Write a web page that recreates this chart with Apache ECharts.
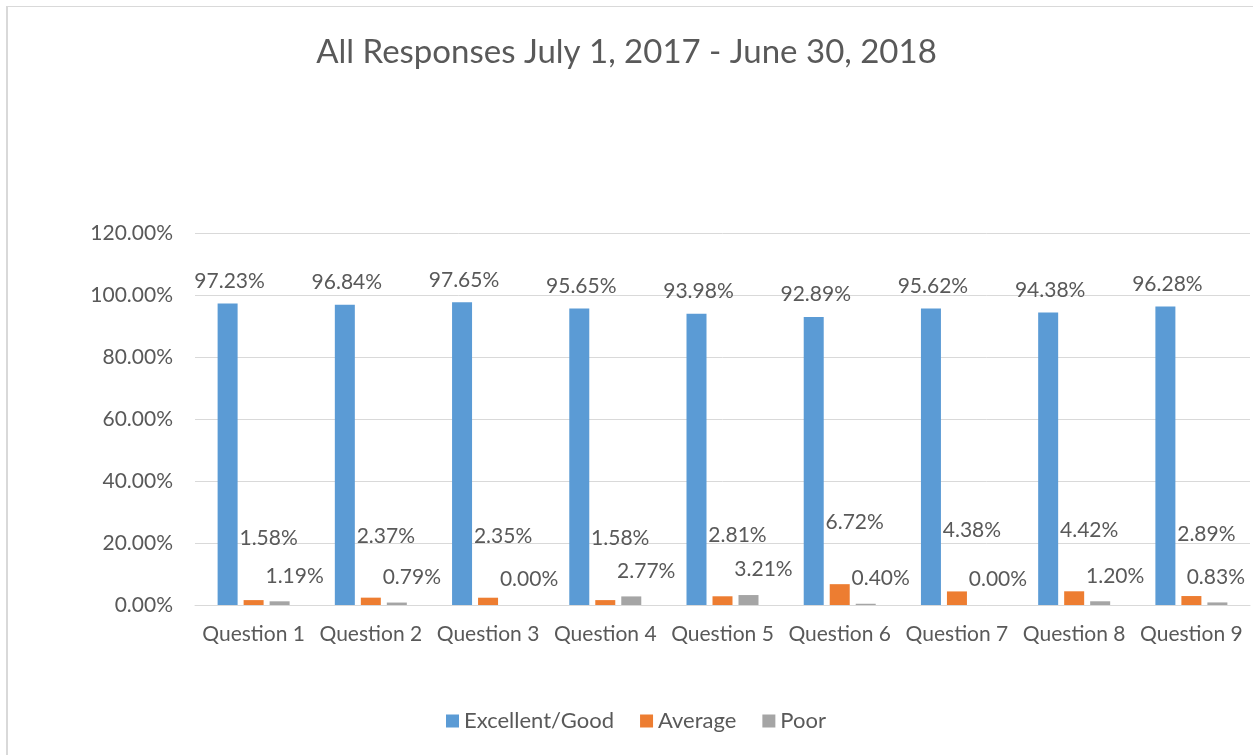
<!DOCTYPE html>
<html>
<head>
<meta charset="utf-8">
<script src="https://cdn.jsdelivr.net/npm/echarts@6/dist/echarts.min.js"></script>
<style>
html,body{margin:0;padding:0;background:#fff;}
#chart{position:absolute;left:0;top:0;width:1253px;height:755px;}
#frame{position:absolute;left:6px;top:6px;width:1300px;height:800px;border-left:2px solid #d9d9d9;border-top:1px solid #d9d9d9;pointer-events:none;}
</style>
</head>
<body>
<div id="chart"></div>
<div id="frame"></div>
<script>
var titleText = 'All Responses July 1, 2017 - June 30, 2018';
var categories = ['Question 1','Question 2','Question 3','Question 4','Question 5','Question 6','Question 7','Question 8','Question 9'];
var excellentGood = [97.23, 96.84, 97.65, 95.65, 93.98, 92.89, 95.62, 94.38, 96.28];
var average = [1.58, 2.37, 2.35, 1.58, 2.81, 6.72, 4.38, 4.42, 2.89];
var poor = [1.19, 0.79, 0.00, 2.77, 3.21, 0.40, 0.00, 1.20, 0.83];
var yTicks = [0, 20, 40, 60, 80, 100, 120];

var FONT = 'Lato, "Liberation Sans", sans-serif';
var TXT = '#595959';
var chart = echarts.init(document.getElementById('chart'), null, {renderer:'canvas'});
function pct(v){ return v.toFixed(2) + '%'; }
var lbl = {show:true, position:'top', distance:5, color:TXT, fontFamily:FONT, fontSize:21,
  formatter:function(p){ return pct(p.value); }};
function shiftLabel(ox, oy){
  return function(params){
    var r = params.labelRect;
    var limit = chart.getWidth() - 8;
    var dx = ox;
    if (r.x + dx + r.width > limit) dx = limit - (r.x + r.width);
    return {dx: dx, dy: oy};
  };
}
chart.setOption({
  animation:false,
  backgroundColor:'#fff',
  title:{text:titleText, left:'center', top:31, textStyle:{color:TXT, fontFamily:FONT, fontSize:33, fontWeight:'normal'}},
  legend:{top:705, left:441, itemWidth:13, itemHeight:13, itemGap:26, icon:'rect',
    textStyle:{color:TXT, fontFamily:FONT, fontSize:22}},
  grid:{left:195, right:3, top:233, bottom:150, containLabel:false},
  xAxis:{type:'category', data:categories,
    axisLine:{show:true, lineStyle:{color:'#d9d9d9', width:1}},
    axisTick:{show:false},
    axisLabel:{color:TXT, fontFamily:FONT, fontSize:21, margin:19, interval:0}},
  yAxis:{type:'value', min:yTicks[0], max:yTicks[yTicks.length-1], interval:20,
    axisLine:{show:false}, axisTick:{show:false},
    splitLine:{lineStyle:{color:'#d9d9d9', width:1}},
    axisLabel:{color:TXT, fontFamily:FONT, fontSize:21, margin:22, formatter:function(v){return pct(v);}}},
  series:[
    {name:'Excellent/Good', type:'bar', data:excellentGood, barWidth:20, barGap:'30%',
      itemStyle:{color:'#5b9bd5'}, label:lbl, labelLayout:shiftLabel(2, -7)},
    {name:'Average', type:'bar', data:average, barWidth:20, barGap:'30%',
      itemStyle:{color:'#ed7d31'}, label:lbl, labelLayout:shiftLabel(15, -46)},
    {name:'Poor', type:'bar', data:poor, barWidth:20, barGap:'30%',
      itemStyle:{color:'#a5a5a5'}, label:lbl, labelLayout:shiftLabel(15, -10)}
  ]
});
</script>
</body>
</html>
